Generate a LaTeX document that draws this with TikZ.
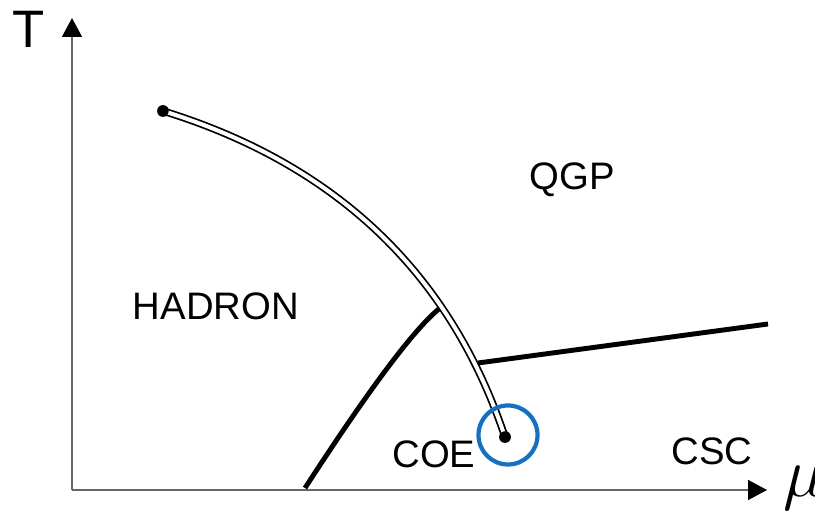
\documentclass[tikz,border=0pt]{standalone}
\usepackage{fontspec}
\setmainfont{Liberation Sans}
\usetikzlibrary{arrows.meta}
\definecolor{ringblue}{RGB}{22,112,192}
\begin{document}
\begin{tikzpicture}[
  axis/.style={draw=black!60, line width=0.9pt, -{Triangle[width=0.4cm,length=0.38cm,color=black]}},
  phase/.style={font=\fontsize{21.8}{24}\selectfont, anchor=base, inner sep=0pt},
  enddot/.style={circle, fill=black, inner sep=0pt, minimum size=0.23cm},
  border/.style={line width=2.8pt},
  crossover/.style={draw=black, double=white, line width=0.035cm, double distance=0.08cm}
]
\useasboundingbox (0,0) rectangle (16.3,10.22);
\coordinate (o) at (1.44,0.42);
\coordinate (ttip) at (1.44,9.86);
\coordinate (mtip) at (15.34,0.42);
\draw[axis] (o) -- (ttip);
\draw[axis] (o) -- (mtip);
\node[font=\fontsize{30}{32}\selectfont, anchor=base, inner sep=0pt] (tlab) at (0.58,9.26) {T};
\node[font=\fontsize{24}{26}\selectfont, scale=1.6, anchor=base west, inner sep=0pt] (mlab) at (15.66,0.28) {$\mu$};
\node[phase] (had) at (4.32,3.82) {HADRON};
\node[phase] (qgp) at (11.44,6.42) {QGP};
\node[phase] (coe) at (8.68,0.86) {COE};
\node[phase] (csc) at (14.24,0.92) {CSC};
\coordinate (cb) at (6.1,0.46);
\coordinate (ct) at (8.8,4.06);
\coordinate (sl) at (9.56,2.96);
\coordinate (sr) at (15.36,3.74);
\draw[border] (cb) .. controls (7.39,2.45) and (8.29,3.65) .. (ct);
\draw[border] (sl) -- (sr);
\node[enddot] (hc) at (3.26,8.0) {};
\node[enddot] (ce) at (10.1,1.48) {};
\draw[crossover] (hc.center) .. controls (6.73,6.93) and (9.01,4.75) .. (ce.center);
\node[enddot] at (hc) {};
\node[enddot] at (ce) {};
\node[circle, draw=ringblue, line width=2.4pt, minimum size=1.18cm, inner sep=0pt] (ring) at (10.16,1.52) {};
\end{tikzpicture}
\end{document}
